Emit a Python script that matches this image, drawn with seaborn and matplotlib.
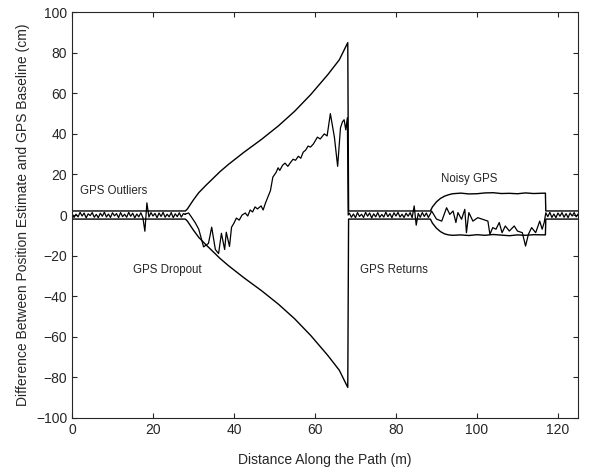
import numpy as np
import pandas as pd
import matplotlib
matplotlib.use("Agg")
import matplotlib.pyplot as plt
import seaborn as sns

# error while GPS is good (0 - 28 m, every 0.5 m), outlier near 18 m
gps1_err = [0.8, -1.2, 0.4, -0.9, 1.3, -0.5, 1.0, -1.4, 0.6, -0.3, 1.2, -1.1,
            0.3, -1.3, 0.9, -0.6, 1.4, -1.0, 0.5, -1.2, 1.1, -0.4, 0.7, -1.3,
            1.2, -0.8, 0.4, -1.1, 1.3, -0.6, 0.9, -1.4, 0.5, -0.9, 1.1, -1.2,
            -8.0, 6.0, -1.0, 1.2, -0.5, 0.8, -1.3, 1.0, -0.7, 1.3, -1.1, 0.4,
            -0.9, 1.2, -1.3, 0.6, -0.8, 1.1, -1.0, 0.7, 0.3]

# error during the GPS dropout
drop_dist = [28.0, 28.8, 29.5, 30.5, 31.3, 32.5, 33.7, 34.5, 35.4, 36.2, 36.9,
             37.7, 38.1, 38.9, 39.4, 40.0, 40.6, 41.3, 42.0, 42.8, 43.4, 44.0,
             44.6, 45.2, 45.8, 46.7, 47.2, 47.8, 48.4, 49.0, 49.6, 50.4, 50.9,
             51.3, 52.0, 52.6, 53.3, 54.0, 54.6, 55.2, 55.9, 56.5, 57.1, 57.7,
             58.3, 58.9, 59.6, 60.2, 60.6, 61.3, 62.3, 63.0, 63.8, 64.8, 65.6,
             66.3, 66.8, 67.2, 67.6, 68.0, 68.2]
drop_err = [0.5, 1.0, -1.0, -4.0, -7.0, -15.7, -14.0, -6.0, -17.0, -19.0, -9.0,
            -17.0, -8.5, -15.5, -6.0, -4.0, -1.5, -2.5, 0.0, 1.0, -0.5, 2.5,
            1.5, 4.0, 3.0, 4.5, 2.5, 6.0, 9.0, 12.0, 18.7, 21.0, 23.3,
            22.0, 24.5, 25.6, 24.0, 26.0, 27.5, 27.0, 29.0, 28.0, 31.0, 32.0,
            34.0, 33.5, 35.0, 37.0, 38.4, 37.5, 40.0, 39.0, 50.0, 38.4, 24.0,
            43.0, 46.0, 47.0, 42.0, 48.0, 0.0]

# error after GPS returns (68.5 - 88.5 m, every 0.5 m)
gps2_err = [0.9, -1.1, 0.5, -1.3, 1.2, -0.7, 0.4, -1.2, 1.3, -0.6, 1.0, -1.4,
            0.6, -0.9, 1.2, -1.1, 0.3, -1.0, 1.4, -0.8, 0.7, -1.3, 1.1, -0.5,
            1.3, -1.0, 0.4, -1.2, 0.9, -0.6, 1.2, -1.3, 4.5, -5.0, 0.8, -1.1,
            1.2, -0.7, 1.0, -1.2, 0.6]

# error with noisy GPS
noisy_dist = [88.8, 90.0, 91.3, 92.5, 93.3, 94.1, 94.8, 95.3, 96.2, 97.0, 97.4,
              98.0, 99.0, 100.2, 101.4, 102.7, 103.2, 103.9, 104.7, 105.5,
              106.2, 107.0, 108.0, 109.2, 110.0, 111.2, 112.0, 112.7, 113.5,
              114.5, 115.5, 116.1, 116.6, 116.9]
noisy_err = [2.0, -2.0, -3.0, 3.6, 0.3, 2.0, -3.7, 1.2, -2.1, 2.8, -8.7,
             1.2, -3.0, -1.3, -2.1, -3.0, -9.5, -6.2, -7.0, -3.7,
             -8.7, -5.4, -7.9, -5.4, -7.9, -8.7, -15.3, -9.5, -6.2,
             -8.7, -3.0, -7.0, -3.7, 0.0]

# error after noisy GPS (117 - 125 m, every 0.5 m)
gps3_err = [1.1, -0.8, 1.3, -1.2, 0.5, -1.3, 1.0, -0.6, 1.2, -1.1, 0.7, -1.3,
            1.0, -0.5, 1.2, -0.9, 0.6]

# uncertainty envelope
env_dist = [0, 28.0, 28.5, 29.0, 30.0, 31.3, 33.0, 34.6, 36.5, 38.6, 42.5,
            46.8, 51.0, 55.0, 59.0, 63.2, 66.0, 68.1, 68.3, 88.5, 89.0, 90.0,
            91.0, 92.0, 93.0, 94.0, 96.0, 98.0, 100.0, 102.0, 104.0, 106.0,
            108.0, 110.0, 112.0, 114.0, 116.9, 117.0, 125.0]
env_upper = [2, 2, 3, 4.5, 7.5, 11, 14.5, 17.6, 21.3, 24.9, 31,
             37.3, 44, 51.2, 59.5, 69.3, 76.5, 85, 2, 2, 4, 6.5,
             8.2, 9.3, 10, 10.5, 10.8, 10.4, 10.5, 10.9, 11, 10.6,
             10.7, 10.5, 10.9, 10.6, 10.8, 2, 2]
env_lower = [-2, -2, -3, -4.5, -7.5, -11, -14.5, -17.6, -21.3, -24.9, -31,
             -37.3, -44, -51.2, -59.5, -69.3, -76.5, -85, -2, -2, -4, -6.5,
             -8.2, -9.3, -9.8, -10, -9.8, -10.1, -9.7, -10, -9.6, -9.9,
             -10.2, -9.8, -10, -9.7, -9.8, -2, -2]

labels = {"GPS Outliers": (2, 12), "GPS Dropout": (15, -27),
          "GPS Returns": (71, -27), "Noisy GPS": (91, 18)}

err_dist = np.concatenate([np.arange(len(gps1_err)) * 0.5, drop_dist,
                           68.5 + np.arange(len(gps2_err)) * 0.5, noisy_dist,
                           117.0 + np.arange(len(gps3_err)) * 0.5])
err_val = np.concatenate([gps1_err, drop_err, gps2_err, noisy_err, gps3_err])
err_df = pd.DataFrame({"dist": err_dist, "err": err_val})
env_df = pd.DataFrame({"dist": env_dist, "upper": env_upper, "lower": env_lower})

sns.set_style("ticks")
plt.rcParams["font.family"] = ["Liberation Sans", "DejaVu Sans"]

fig = plt.figure(figsize=(5.9, 4.7), dpi=100)
ax = fig.add_axes([0.122, 0.111, 0.858, 0.863])

sns.lineplot(data=env_df, x="dist", y="upper", estimator=None, sort=False,
             color="black", lw=1.0, ax=ax)
sns.lineplot(data=env_df, x="dist", y="lower", estimator=None, sort=False,
             color="black", lw=1.0, ax=ax)
sns.lineplot(data=err_df, x="dist", y="err", estimator=None, sort=False,
             color="black", lw=0.9, ax=ax)

for txt, (x, y) in labels.items():
    ax.text(x, y, txt, fontsize=8.3, va="center")

ax.set_xlim(0, 125)
ax.set_ylim(-100, 100)
ax.set_xticks(range(0, 121, 20))
ax.set_yticks(range(-100, 101, 20))
ax.tick_params(direction="in", top=True, right=True, labelsize=10, length=3.5)
for s in ax.spines.values():
    s.set_linewidth(0.8)
ax.set_xlabel("Distance Along the Path (m)", fontsize=10, labelpad=12)
ax.set_ylabel("Difference Between Position Estimate and GPS Baseline (cm)",
              fontsize=10)

fig.savefig("out.png", dpi=100)
